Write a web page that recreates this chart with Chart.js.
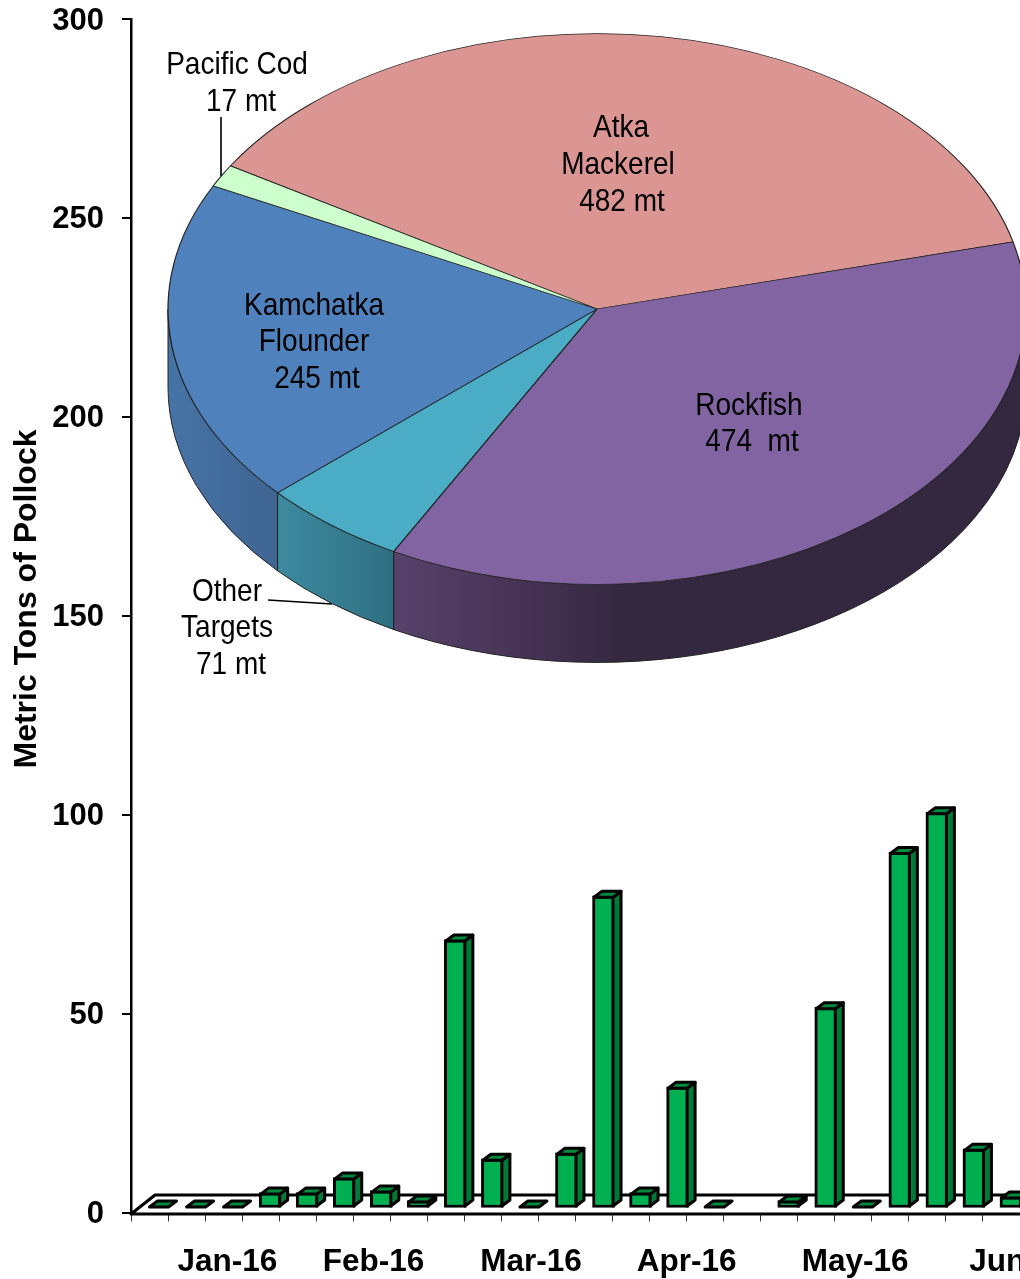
<!DOCTYPE html>
<html>
<head>
<meta charset="utf-8">
<title>Metric Tons of Pollock</title>
<script src="https://cdn.jsdelivr.net/npm/chart.js@4/dist/chart.umd.min.js"></script>
<style>
  html, body { margin: 0; padding: 0; background: #fff; overflow: hidden; width: 1020px; height: 1279px; }
  canvas { position: absolute; left: 0; top: 0; }
</style>
</head>
<body>
<canvas id="bars" width="1020" height="1279"></canvas>
<canvas id="pie" width="1020" height="700"></canvas>
<script>
// Data
const weeks = ["1","2","3","4","5","6","7","8","9","10","11","12","13","14","15","16","17","18","19","20","21","22","23","24"];
const pollock = [0, 0, 0, 4, 4, 7.8, 4.5, 2, 67.6, 12.5, 0, 14, 78.6, 4, 30.6, 0, null, 2, 50.6, 0, 89.6, 99.6, 15, 3];
const monthLabels = ["Jan-16", "Feb-16", "Mar-16", "Apr-16", "May-16", "Jun-16"];
const monthPositions = [2.6, 6.55, 10.8, 15, 19.55, 24];

const targets = ["Atka Mackerel", "Rockfish", "Other Targets", "Kamchatka Flounder", "Pacific Cod"];
const targetTons = [482, 474, 71, 245, 17];

// Styles
const BOLD = '"Liberation Sans", Arial, sans-serif';
const topColors = ["#DB9593", "#8264A2", "#4BACC6", "#4F81BD", "#CCFFCC"];
const wallStops = [
  [[0, "#8a5e5c"], [1, "#8a5e5c"]],
  [[0, "#57426b"], [0.26, "#412f4e"], [0.36, "#332840"], [1, "#332840"]],
  [[0, "#3d8a9f"], [1, "#2f6f82"]],
  [[0, "#4673a6"], [1, "#3f6592"]],
  [[0, "#7fa07f"], [1, "#7fa07f"]]
];
const ELLIPSE = 0.642, WALL = 78, NARROW_X = 0.875;
const DX = 8, DY = 6, SHIFT_X = 9.5, SHIFT_Y = -4, EDGE = 3;

// Pie labels: [text, centre x, centre y]
const pieLabels = [
  ["Atka", 621, 128], ["Mackerel", 618, 165], ["482 mt", 622, 202],
  ["Kamchatka", 314, 306], ["Flounder", 314, 342], ["245 mt", 317, 379],
  ["Rockfish", 749, 406], ["474  mt", 752, 442],
  ["Pacific Cod", 237, 65], ["17 mt", 241, 102],
  ["Other", 227, 592], ["Targets", 227, 628], ["71 mt", 231, 665]
];

// Draws side and top faces of the bars and shifts them back on the floor
const bar3d = {
  id: "bar3d",
  beforeDatasetsDraw(chart) {
    const { ctx, chartArea } = chart;
    const y0 = chart.scales.y.getPixelForValue(0);
    ctx.save();
    ctx.strokeStyle = "#000";
    ctx.lineWidth = EDGE;
    ctx.lineJoin = "round";
    ctx.beginPath();
    ctx.moveTo(chartArea.right, y0 - 17.5);
    ctx.lineTo(chartArea.left + 24, y0 - 17.5);
    ctx.lineTo(chartArea.left, y0 + 1.5);
    ctx.lineTo(chartArea.right, y0 + 1.5);
    ctx.stroke();
    ctx.restore();
  },
  beforeDatasetDraw(chart) {
    chart.ctx.save();
    chart.ctx.translate(SHIFT_X, SHIFT_Y);
  },
  afterDatasetDraw(chart) {
    const ctx = chart.ctx;
    ctx.strokeStyle = "#000";
    ctx.lineWidth = EDGE;
    ctx.lineJoin = "round";
    chart.getDatasetMeta(0).data.forEach((el, i) => {
      if (pollock[i] === null) return;
      const half = el.width / 2 - EDGE / 2;
      const l = el.x - half, r = el.x + half;
      const b = el.base - EDGE / 2;
      const t = Math.min(el.y + EDGE / 2, b);
      if (b - t > 0.5) {
        ctx.fillStyle = "#007A37";
        ctx.beginPath();
        ctx.moveTo(r, t); ctx.lineTo(r + DX, t - DY); ctx.lineTo(r + DX, b - DY); ctx.lineTo(r, b);
        ctx.closePath(); ctx.fill(); ctx.stroke();
      }
      ctx.fillStyle = "#008A3E";
      ctx.beginPath();
      ctx.moveTo(l, t); ctx.lineTo(l + DX, t - DY); ctx.lineTo(r + DX, t - DY); ctx.lineTo(r, t);
      ctx.closePath(); ctx.fill(); ctx.stroke();
    });
    ctx.restore();
  },
  afterDraw(chart) {
    const ctx = chart.ctx;
    ctx.save();
    ctx.translate(27, 599);
    ctx.rotate(-Math.PI / 2);
    ctx.font = "bold 32px " + BOLD;
    ctx.fillStyle = "#000";
    ctx.textAlign = "center";
    ctx.textBaseline = "middle";
    ctx.fillText("Metric Tons of Pollock", 0, 0);
    ctx.restore();
  }
};

new Chart(document.getElementById("bars"), {
  type: "bar",
  plugins: [bar3d],
  data: {
    labels: weeks,
    datasets: [{
      data: pollock,
      clip: false,
      backgroundColor: "#00B050",
      borderColor: "#000",
      borderWidth: EDGE,
      borderSkipped: false,
      barThickness: 22
    }]
  },
  options: {
    responsive: false,
    animation: false,
    layout: { padding: { top: 19, left: 0, right: 0, bottom: 0 } },
    plugins: { legend: { display: false }, tooltip: { enabled: false } },
    scales: {
      x: {
        position: "bottom",
        ticks: { display: false },
        grid: { drawOnChartArea: false, tickLength: 9, color: "#333", lineWidth: 1 },
        border: { display: false },
        afterFit(s) { s.height = 8; s.paddingLeft = 0; s.paddingRight = 0; }
      },
      months: {
        type: "linear",
        position: "bottom",
        axis: "x",
        offset: false,
        min: 0,
        max: 24,
        grid: { display: false },
        border: { display: false },
        ticks: {
          autoSkip: false,
          maxRotation: 0,
          minRotation: 0,
          padding: 15,
          color: "#000",
          font: { family: BOLD, weight: "bold", size: 31.5 },
          callback: (v, i) => monthLabels[i]
        },
        afterBuildTicks(s) { s.ticks = monthPositions.map(value => ({ value })); },
        afterFit(s) { s.height = 58.5; s.paddingLeft = 0; s.paddingRight = 0; }
      },
      y: {
        min: 0,
        max: 300,
        ticks: {
          stepSize: 50,
          padding: 18,
          labelOffset: 2,
          color: "#000",
          font: { family: BOLD, weight: "bold", size: 31 }
        },
        grid: { drawOnChartArea: false, tickLength: 9, color: "#000", lineWidth: 2 },
        border: { color: "#000", width: 2.5 },
        afterFit(s) { s.width = 131; s.paddingTop = 0; s.paddingBottom = 0; }
      }
    }
  }
});

// Tilts the pie into an ellipse and adds the rim below it
const pieTilt = {
  id: "pieTilt",
  beforeDatasetsDraw(chart) {
    const ctx = chart.ctx;
    chart.getDatasetMeta(0).data.forEach((arc, i) => {
      const r = arc.outerRadius, ry = r * ELLIPSE;
      for (const k of [0, 1, -1]) {
        const a0 = Math.max(arc.startAngle, 2 * Math.PI * k);
        const a1 = Math.min(arc.endAngle, 2 * Math.PI * k + Math.PI);
        if (a1 <= a0) continue;
        const left = arc.x + r * Math.cos(a1 - 2 * Math.PI * k), right = arc.x + r * Math.cos(a0 - 2 * Math.PI * k);
        const g = ctx.createLinearGradient(left, 0, right, 0);
        wallStops[i].forEach(([at, color]) => g.addColorStop(at, color));
        ctx.fillStyle = g;
        ctx.strokeStyle = "#222";
        ctx.lineWidth = 1;
        ctx.beginPath();
        ctx.ellipse(arc.x, arc.y, r, ry, 0, a0, a1);
        ctx.ellipse(arc.x, arc.y + WALL, r, ry, 0, a1, a0, true);
        ctx.closePath();
        ctx.fill();
        ctx.stroke();
      }
    });
    const c = chart.getDatasetMeta(0).data[0];
    ctx.save();
    ctx.translate(c.x, c.y);
    ctx.scale(1, ELLIPSE);
    ctx.translate(-c.x, -c.y);
  },
  afterDatasetsDraw(chart) {
    chart.ctx.restore();
  },
  afterDraw(chart) {
    const ctx = chart.ctx;
    ctx.save();
    ctx.strokeStyle = "#000";
    ctx.lineWidth = 1.6;
    ctx.beginPath();
    ctx.moveTo(221, 117); ctx.lineTo(221, 176);
    ctx.moveTo(268, 600); ctx.lineTo(332, 604);
    ctx.stroke();
    ctx.font = '32px "Liberation Sans", Arial, sans-serif';
    ctx.fillStyle = "#000";
    ctx.textAlign = "center";
    ctx.textBaseline = "middle";
    pieLabels.forEach(([text, x, y]) => {
      ctx.save();
      ctx.translate(x, y);
      ctx.scale(NARROW_X, 1);
      ctx.fillText(text, 0, 0);
      ctx.restore();
    });
    ctx.restore();
  }
};

new Chart(document.getElementById("pie"), {
  type: "pie",
  plugins: [pieTilt],
  data: {
    labels: targets,
    datasets: [{
      data: targetTons,
      backgroundColor: topColors,
      borderColor: "#222",
      borderWidth: 1.2
    }]
  },
  options: {
    responsive: false,
    animation: false,
    rotation: 301.3,
    radius: 429,
    layout: { padding: { left: 174, right: 0, top: 0, bottom: 82 } },
    plugins: { legend: { display: false }, tooltip: { enabled: false } }
  }
});
</script>
</body>
</html>
